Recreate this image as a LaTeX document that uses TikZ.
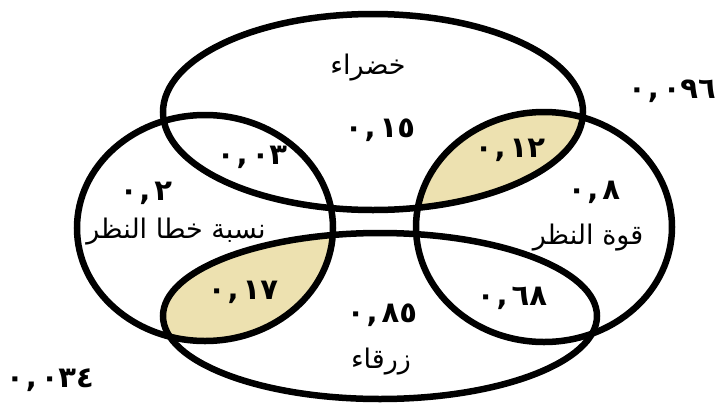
\documentclass[tikz,border=0pt]{standalone}
\usepackage{fontspec}
\usetikzlibrary{shapes.geometric}
\newfontfamily\arabicfont[Script=Arabic]{DejaVu Sans}
\TeXXeTstate=1
\definecolor{lens}{RGB}{237,225,176}
\newcommand{\cm}{\kern2pt,\kern4pt}
\begin{document}
\begin{tikzpicture}[x=1pt,y=-1pt,
  ring/.style={draw=black, line width=6.5pt, ellipse, inner sep=0pt, outer sep=0pt},
  num/.style={font=\arabicfont\bfseries\fontsize{29}{34}\selectfont, inner sep=0pt},
  lbl/.style={font=\arabicfont\fontsize{27}{32}\selectfont, inner sep=0pt}]
\useasboundingbox (0,0) rectangle (718,405);
% shaded lenses
\begin{scope}
  \clip (373,112) ellipse [x radius=210pt, y radius=98pt];
  \fill[lens] (544,227) ellipse [x radius=128pt, y radius=115pt];
\end{scope}
\begin{scope}
  \clip (205,228) ellipse [x radius=128pt, y radius=113pt];
  \fill[lens] (380,316) ellipse [x radius=217pt, y radius=83pt];
\end{scope}
% sets
\node[ring, minimum width=420pt, minimum height=196pt] (top) at (373,112) {};
\node[ring, minimum width=256pt, minimum height=226pt] (left) at (205,228) {};
\node[ring, minimum width=256pt, minimum height=230pt] (right) at (544,227) {};
\node[ring, minimum width=434pt, minimum height=166pt] (bottom) at (380,316) {};
% labels
\node[lbl] (green) at (368,68) {\beginR خضراء\endR};
\node[num] (n15) at (380,130) {٠\cm١٥};
\node[num] (n03) at (252,157) {٠\cm٠٣};
\node[num] (n12) at (510,150) {٠\cm١٢};
\node[num] (n2) at (146,193) {٠\cm٢};
\node[lbl] (fpr) at (176,232) {\beginR نسبة خطا النظر\endR};
\node[num] (n17) at (243,292) {٠\cm١٧};
\node[num] (n8) at (594,192) {٠\cm٨};
\node[lbl] (pow) at (588,238) {\beginR قوة النظر\endR};
\node[num] (n68) at (512,298) {٠\cm٦٨};
\node[num] (n85) at (382,315) {٠\cm٨٥};
\node[lbl] (blue) at (381,362) {\beginR زرقاء\endR};
\node[num] (n034) at (50,380) {٠\cm٠٣٤};
\node[num] (n096) at (672,91) {٠\cm٠٩٦};
\end{tikzpicture}
\end{document}
